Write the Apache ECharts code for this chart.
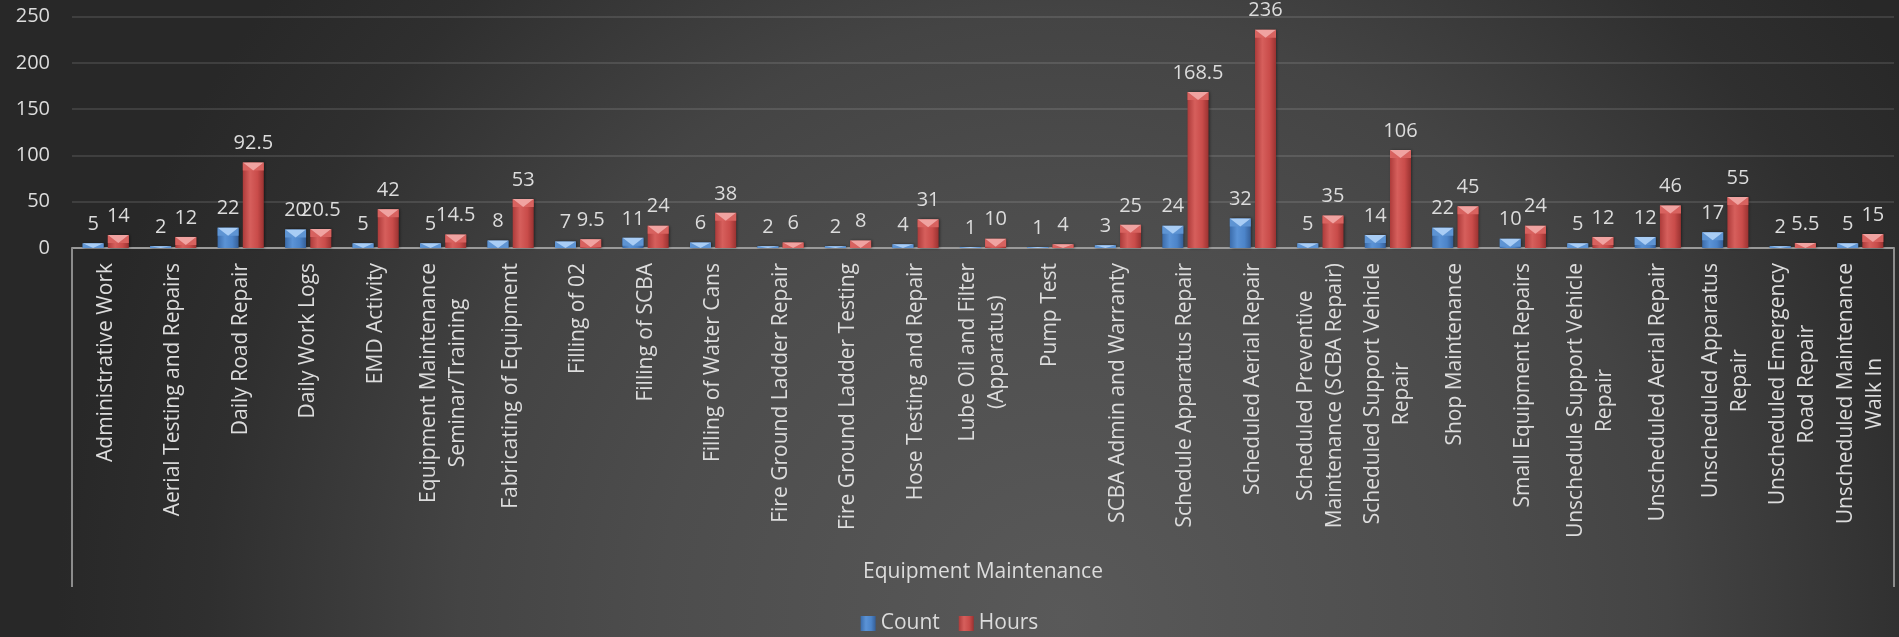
<!DOCTYPE html>
<html>
<head>
<meta charset="utf-8">
<title>Equipment Maintenance</title>
<script src="https://cdn.jsdelivr.net/npm/echarts@6/dist/echarts.min.js"></script>
<style>
  html, body { margin: 0; padding: 0; background: #2b2b2b; }
  #chart { width: 100vw; height: 100vh; }
</style>
</head>
<body>
<div id="chart"></div>
<script>
// Work categories (line breaks follow the wrapped axis labels)
const categories = [
  'Administrative Work',
  'Aerial Testing and Repairs',
  'Daily Road Repair',
  'Daily Work Logs',
  'EMD Activity',
  'Equipment Maintenance\nSeminar/Training',
  'Fabricating of Equipment',
  'Filling of 02',
  'Filling of SCBA',
  'Filling of Water Cans',
  'Fire Ground Ladder Repair',
  'Fire Ground Ladder Testing',
  'Hose Testing and Repair',
  'Lube Oil and Filter\n(Apparatus)',
  'Pump Test',
  'SCBA Admin and Warranty',
  'Schedule Apparatus Repair',
  'Scheduled Aerial Repair',
  'Scheduled Preventive\nMaintenance (SCBA Repair)',
  'Scheduled Support Vehicle\nRepair',
  'Shop Maintenance',
  'Small Equipment Repairs',
  'Unschedule Support Vehicle\nRepair',
  'Unscheduled Aerial Repair',
  'Unscheduled Apparatus\nRepair',
  'Unscheduled Emergency\nRoad Repair',
  'Unscheduled Maintenance\nWalk In'
];

const countValues = [5, 2, 22, 20, 5, 5, 8, 7, 11, 6, 2, 2, 4, 1, 1, 3, 24, 32, 5, 14, 22, 10, 5, 12, 17, 2, 5];
const hoursValues = [14, 12, 92.5, 20.5, 42, 14.5, 53, 9.5, 24, 38, 6, 8, 31, 10, 4, 25, 168.5, 236, 35, 106, 45, 24, 12, 46, 55, 5.5, 15];

const groupName = ['Equipment Maintenance'];
const seriesNames = ['Count', 'Hours'];

// Value axis range
const yMin = 0, yMax = 250, yStep = 50;

const FONT = "'Open Sans', 'Noto Sans', sans-serif";
const TEXT = '#dcdcdc';
const BAR_W = 21;
const GAP = 0.2;
const BEVEL_H = 8;

const chart = echarts.init(document.getElementById('chart'));

function bodyGradient(stops) {
  return new echarts.graphic.LinearGradient(0, 0, 1, 0, [
    { offset: 0, color: stops[0] },
    { offset: 0.35, color: stops[1] },
    { offset: 0.7, color: stops[2] },
    { offset: 1, color: stops[3] }
  ]);
}

const blueFill = bodyGradient(['#3b6cab', '#5b93d6', '#4c84c9', '#355f98']);
const redFill = bodyGradient(['#ad3b3a', '#d65f5c', '#c94c4a', '#9a3231']);

// Pyramid-style highlight drawn on the top of every bar
function bevel(slot, light, side) {
  return function (params, api) {
    const i = api.value(0);
    const v = api.value(1);
    const base = api.coord([i, 0]);
    const top = api.coord([i, v]);
    const total = BAR_W * 2 + BAR_W * GAP;
    const x0 = base[0] - total / 2 + slot * BAR_W * (1 + GAP);
    const y0 = top[1];
    const h = Math.min(BEVEL_H, base[1] - y0);
    if (h <= 0) return null;
    return {
      type: 'group',
      children: [
        { type: 'polygon', shape: { points: [[x0, y0], [x0 + BAR_W / 2, y0 + h], [x0, y0 + h]] }, style: { fill: side } },
        { type: 'polygon', shape: { points: [[x0 + BAR_W, y0], [x0 + BAR_W / 2, y0 + h], [x0 + BAR_W, y0 + h]] }, style: { fill: side } },
        { type: 'polygon', shape: { points: [[x0, y0], [x0 + BAR_W, y0], [x0 + BAR_W / 2, y0 + h]] }, style: { fill: light } }
      ]
    };
  };
}

const labelStyle = {
  show: true,
  position: 'top',
  distance: 9,
  color: TEXT,
  fontSize: 20,
  fontFamily: FONT
};

const W = window.innerWidth, H = window.innerHeight;

chart.setOption({
  animation: false,
  graphic: [{
    type: 'rect',
    z: -10,
    silent: true,
    shape: { x: 0, y: 0, width: W, height: H },
    style: {
      fill: {
        type: 'radial', x: W * 0.56, y: H * 0.97, r: W * 0.53, global: true,
        colorStops: [
          { offset: 0, color: '#595959' },
          { offset: 0.4, color: '#4d4d4d' },
          { offset: 0.6, color: '#444444' },
          { offset: 0.85, color: '#2f2f2f' },
          { offset: 1, color: '#282828' }
        ]
      }
    }
  }],
  grid: { left: 72, right: 5, top: 16.7, bottom: 389, containLabel: false },
  legend: {
    data: seriesNames,
    top: 608,
    left: 'center',
    itemWidth: 15,
    itemHeight: 15,
    itemGap: 19,
    icon: 'rect',
    textStyle: { color: TEXT, fontSize: 21, fontFamily: FONT }
  },
  xAxis: [{
    type: 'category',
    data: categories,
    position: 'bottom',
    axisLine: { lineStyle: { color: '#9a9a9a', width: 2 } },
    axisTick: { show: false },
    axisLabel: {
      interval: 0,
      rotate: 90,
      margin: 15,
      color: TEXT,
      fontSize: 21,
      fontFamily: FONT,
      lineHeight: 29,
      formatter: (value) => value.split('\n').map(l => '{c|' + l + '}').join('\n'),
      rich: { c: { align: 'center', color: TEXT, fontSize: 21, fontFamily: FONT, lineHeight: 29 } }
    }
  }, {
    type: 'category',
    data: groupName,
    position: 'bottom',
    axisLine: { show: false },
    axisTick: { show: true, length: 339, lineStyle: { color: '#8c8c8c', width: 2 } },
    axisLabel: { margin: 314, color: TEXT, fontSize: 21, fontFamily: FONT },
    splitLine: { show: false }
  }],
  yAxis: {
    type: 'value',
    min: yMin,
    max: yMax,
    interval: yStep,
    axisLine: { show: false },
    axisTick: { show: false },
    axisLabel: { color: TEXT, fontSize: 20, fontFamily: FONT, margin: 22 },
    splitLine: { lineStyle: { color: 'rgba(255,255,255,0.11)', width: 2 } }
  },
  series: [{
    name: seriesNames[0],
    type: 'bar',
    data: countValues,
    barWidth: BAR_W,
    barGap: (GAP * 100) + '%',
    itemStyle: { color: blueFill, shadowColor: 'rgba(0,0,0,0.55)', shadowBlur: 3, shadowOffsetX: 1 },
    label: labelStyle
  }, {
    name: seriesNames[1],
    type: 'bar',
    data: hoursValues,
    barWidth: BAR_W,
    barGap: (GAP * 100) + '%',
    itemStyle: { color: redFill, shadowColor: 'rgba(0,0,0,0.55)', shadowBlur: 3, shadowOffsetX: 1 },
    label: labelStyle
  }, {
    type: 'custom',
    silent: true,
    z: 3,
    renderItem: bevel(0, '#a9cdf5', '#5e94d3'),
    data: countValues.map((v, i) => [i, v])
  }, {
    type: 'custom',
    silent: true,
    z: 3,
    renderItem: bevel(1, '#f0a3a1', '#d8625f'),
    data: hoursValues.map((v, i) => [i, v])
  }]
});
</script>
</body>
</html>
